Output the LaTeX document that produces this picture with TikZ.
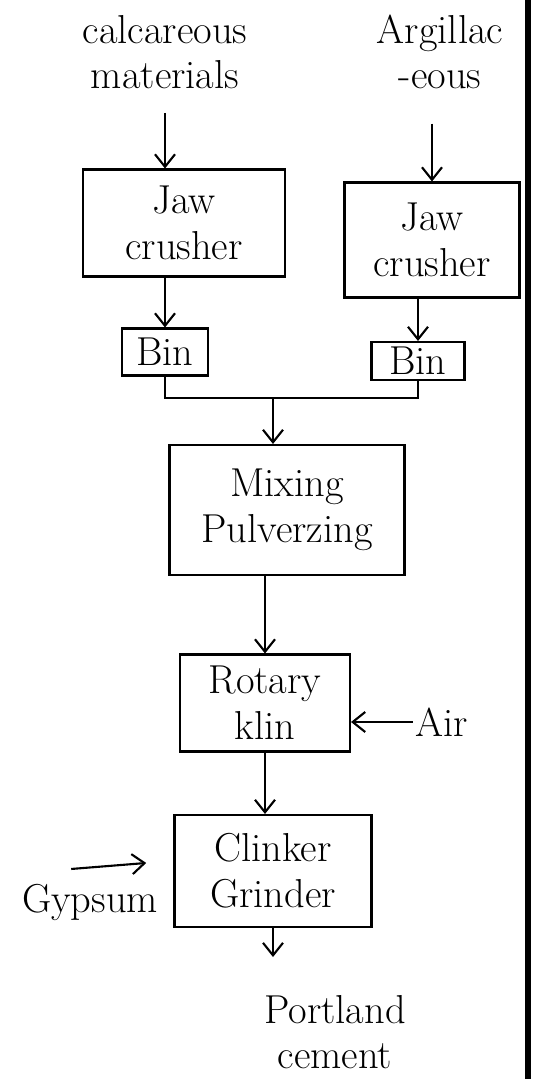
\documentclass[tikz,border=0pt]{standalone}
\usepackage{amsmath, amssymb}
\usepackage{tikz}
\usetikzlibrary{arrows.meta}

\begin{document}
\begin{tikzpicture}[x=0.02cm, y=-0.02cm, line width=1.2pt, >={Straight Barb[length=2.5mm, width=4mm]},
    every node/.style={font=\fontsize{23}{26}\selectfont, align=center, inner sep=1pt},
    box/.style={draw, inner sep=2pt}]
    \useasboundingbox (0,0) rectangle (534,1079);

    % Raw materials
    \node (calc) at (165, 52) {calcareous\\materials};
    \node (arg) at (440, 52) {Argillac\\-eous};

    % Crushers and bins
    \node[box, minimum width=4.04cm, minimum height=2.14cm] (jawL) at (184, 223) {Jaw\\crusher};
    \node[box, minimum width=3.5cm, minimum height=2.3cm] (jawR) at (432, 240) {Jaw\\crusher};
    \node[box, minimum width=1.72cm, minimum height=0.94cm] (binL) at (165, 352) {Bin};
    \node[box, minimum width=1.86cm, minimum height=0.76cm] (binR) at (418, 361) {Bin};
    \coordinate (join) at (273, 398);

    % Process
    \node[box, minimum width=4.7cm, minimum height=2.6cm] (mix) at (287, 510) {Mixing\\Pulverzing};
    \node[box, minimum width=3.4cm, minimum height=1.94cm] (rot) at (265, 703) {Rotary\\klin};
    \node (air) at (442, 722) {Air};
    \node[box, minimum width=3.94cm, minimum height=2.24cm] (clink) at (273, 871) {Clinker\\Grinder};
    \node (gyp) at (90, 902) {Gypsum};
    \node (port) at (335, 1032) {Portland\\cement};

    % Edges
    \draw[->] ([yshift=-12]calc.south) -- (calc.south |- jawL.north);
    \draw[->] ([yshift=-18]arg.south -| jawR.north) -- (jawR.north);
    \draw[->] (jawL.south -| binL.north) -- (binL.north);
    \draw[->] (binR.north |- jawR.south) -- (binR.north);
    \draw (binL.south) |- (join) -| (binR.south);
    \draw[->] (join) -- (join |- mix.north);
    \draw[->] (mix.south -| rot.north) -- (rot.north);
    \draw[->] (air.west) -- (air.west -| rot.east);
    \draw[->] (rot.south) -- (rot.south |- clink.north);
    \draw[->] ([shift={(52,-12)}]gyp.north west) -- ([shift={(127,-18)}]gyp.north west);
    \draw[->, shorten >=20] (clink.south) -- (clink.south |- port.north);

    % Page edge
    \draw[line width=3pt] (528, 0) -- (528, 1079);
\end{tikzpicture}
\end{document}
